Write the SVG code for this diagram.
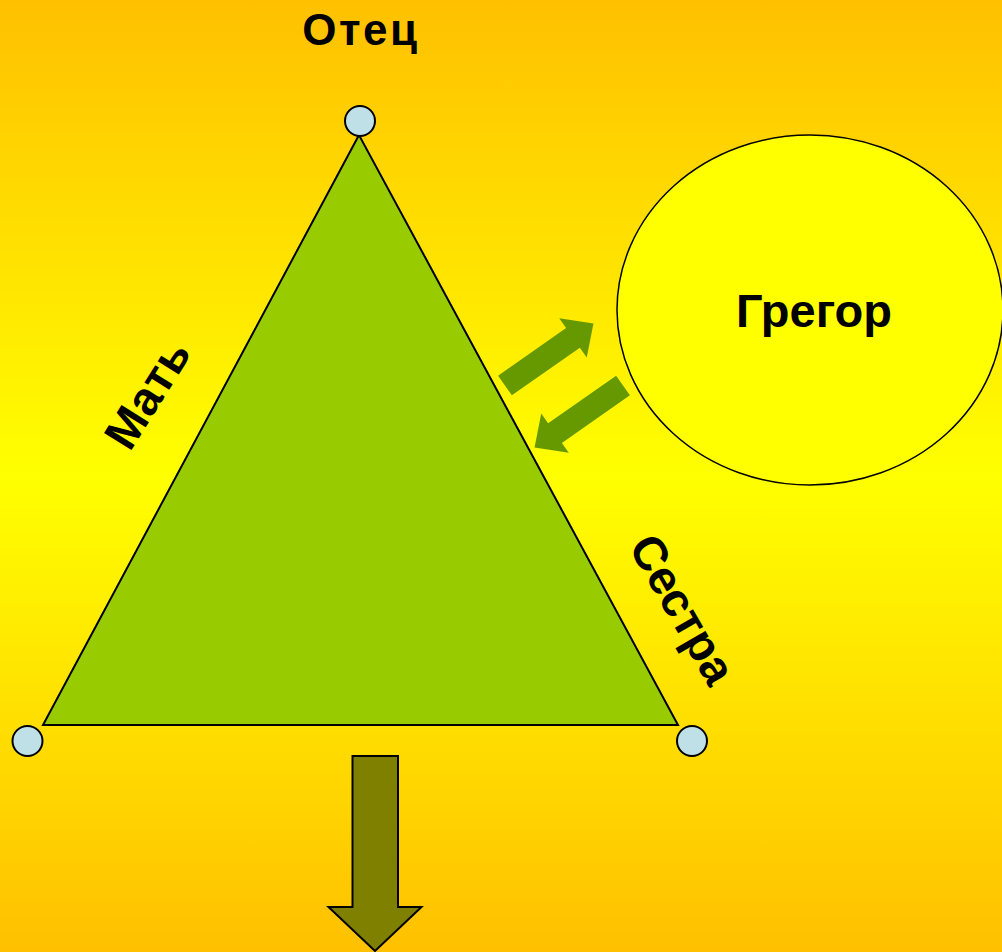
<svg xmlns="http://www.w3.org/2000/svg" width="1002" height="952" viewBox="0 0 1002 952">
<defs>
<linearGradient id="bg" x1="0" y1="0" x2="0" y2="1">
<stop offset="0" stop-color="#FFC000"/>
<stop offset="0.5" stop-color="#FFFF00"/>
<stop offset="1" stop-color="#FFC000"/>
</linearGradient>
<style>
.lbl{font-family:"Liberation Sans",Arial,sans-serif;font-weight:bold;font-size:47px;fill:#000;text-anchor:middle}
.rot{dominant-baseline:central}
.dot{fill:#BFE0E6;stroke:#000;stroke-width:2}
.garrow{fill:#669900}
</style>
</defs>
<rect x="0" y="0" width="1002" height="952" fill="url(#bg)"/>
<g id="triangle">
<polygon points="359,135 43,725 678,725" fill="#99CC00" stroke="#000" stroke-width="2"/>
</g>
<g id="gregor">
<ellipse cx="810" cy="310" rx="193" ry="175" fill="#FFFF00" stroke="#000" stroke-width="1.5"/>
<text class="lbl" x="814" y="326.5">Грегор</text>
</g>
<g id="otec">
<circle class="dot" cx="360" cy="121" r="15"/>
<text class="lbl" x="361" y="45" style="font-size:44px;letter-spacing:2.5px">Отец</text>
</g>
<g id="mat">
<circle class="dot" cx="27.5" cy="741" r="15"/>
<text class="lbl rot" transform="translate(147,394) rotate(-58)">Мать</text>
</g>
<g id="sestra">
<circle class="dot" cx="692" cy="741" r="15"/>
<text class="lbl rot" transform="translate(683,609) rotate(60)">Сестра</text>
</g>
<g id="connectors">
<path class="garrow" transform="translate(505,385.5) rotate(-35)" d="M0,-12 L83,-12 L83,-24 L108,0 L83,24 L83,12 L0,12 Z"/>
<path class="garrow" transform="translate(623,385.5) rotate(145)" d="M0,-12 L83,-12 L83,-24 L108,0 L83,24 L83,12 L0,12 Z"/>
<path d="M352.5,756 L398,756 L398,907 L421.5,907 L375,951 L328.5,907 L352.5,907 Z" fill="#808000" stroke="#000" stroke-width="2"/>
</g>
</svg>
